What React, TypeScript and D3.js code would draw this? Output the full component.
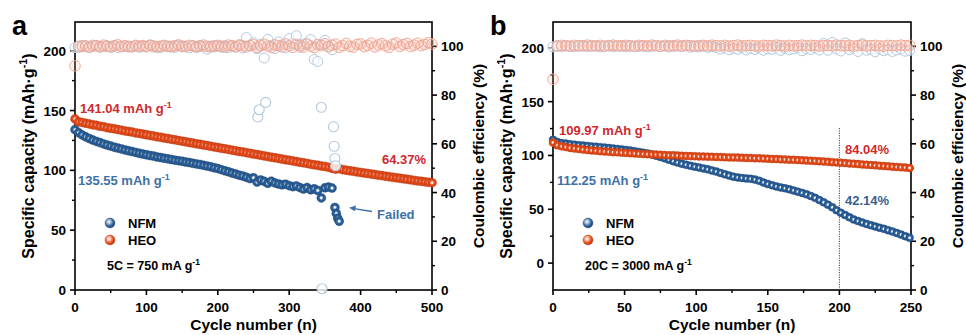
import React from 'react';
import * as d3 from 'd3';

const FONT = "'Liberation Sans', Arial, Helvetica, sans-serif";

// ---------- panel a (5C) ----------
const cyclesA = d3.range(0, 501, 5);
const heoCapA = [
  143, 140.6, 140.1, 139.3, 138.8, 138.1, 137.6, 136.8, 136.5, 135.7,
  135.2, 134.7, 134.1, 133.6, 133.0, 132.5, 132.0, 131.3, 130.9, 130.3,
  129.8, 129.2, 128.7, 128.1, 127.6, 127.0, 126.6, 126.0, 125.5, 124.9,
  124.4, 123.9, 123.3, 122.8, 122.2, 121.8, 121.2, 120.7, 120.1, 119.6,
  119.1, 118.5, 118.0, 117.5, 116.9, 116.4, 115.8, 115.4, 114.8, 114.2,
  113.7, 113.2, 112.6, 112.1, 111.6, 111.0, 110.5, 110.0, 109.4, 108.9,
  108.4, 107.9, 107.3, 106.8, 106.3, 105.8, 105.2, 104.7, 104.2, 103.6,
  103.2, 102.6, 101.8, 101.0, 101.4, 100.6, 100.1, 99.6, 99.2, 98.7,
  98.3, 97.8, 97.4, 96.9, 96.5, 96.0, 95.6, 95.1, 94.7, 94.2,
  93.8, 93.4, 92.9, 92.5, 92.1, 91.6, 91.2, 90.8, 90.4, 90.0,
  89.7,
];
const heoCeA = [
  92, 99.8, 100.3, 100.1, 99.6, 100.4, 100.2, 99.9, 100.5, 100.1,
  99.7, 100.3, 100.6, 99.9, 100.2, 100.0, 99.8, 100.4, 100.1, 100.3,
  99.9, 100.5, 100.2, 99.7, 100.1, 100.4, 100.0, 99.8, 100.3, 100.6,
  100.1, 99.9, 100.4, 100.2, 99.6, 100.3, 100.5, 100.0, 99.8, 100.2,
  100.4, 100.1, 99.7, 100.5, 100.3, 99.9, 100.6, 100.2, 99.8, 100.4,
  100.7, 99.6, 100.2, 100.9, 100.1, 99.5, 100.6, 100.3, 99.8, 101.0,
  100.2, 99.6, 100.8, 100.4, 99.7, 100.9, 100.1, 99.5, 100.7, 100.3,
  101.1, 99.8, 100.5, 100.9, 99.6, 100.3, 101.2, 100.0, 99.7, 100.8,
  101.0, 99.9, 100.4, 101.3, 99.8, 100.6, 101.1, 100.2, 99.6, 100.9,
  101.4, 100.0, 100.7, 101.2, 99.9, 100.5, 101.3, 100.3, 100.8, 101.5,
  100.9,
];
const nfmCyclesA = d3.range(0, 361, 5);
const nfmCapA = [
  134.0, 131.5, 129.6, 128.0, 126.6, 125.3, 124.2, 123.2, 122.1, 121.2,
  120.3, 119.4, 118.6, 117.9, 117.1, 116.4, 115.7, 115.0, 114.3, 113.6,
  113.0, 112.4, 111.9, 111.2, 110.7, 110.1, 109.6, 109.1, 108.5, 108.1,
  107.6, 107.0, 106.6, 105.9, 105.4, 104.9, 104.2, 103.6, 103.0, 102.2,
  101.5, 100.6, 99.6, 98.8, 97.8, 97.0, 96.0, 95.3, 94.2, 93.1,
  93.8, 90.2, 92.0, 90.8, 89.2, 90.9, 89.5, 88.6, 87.9, 88.4,
  87.2, 86.4, 87.0, 85.6, 84.4, 85.6, 83.8, 84.6, 83.2, 77.0,
  85.4, 86.0, 85.2,
];
const nfmFailCyclesA = [364, 366, 368, 370];
const nfmFailCapA = [69, 64, 60, 57.5];
const nfmCeA = [
  99.5, 100.1, 99.8, 100.2, 99.7, 100.0, 100.3, 99.6, 99.9, 100.2,
  99.8, 100.1, 99.5, 100.0, 100.3, 99.7, 99.9, 100.2, 99.6, 100.1,
  99.8, 100.4, 99.7, 100.0, 99.5, 100.2, 99.9, 100.1, 99.6, 100.3,
  99.8, 100.0, 99.4, 100.2, 99.9, 100.1, 99.7, 98.9, 100.2, 99.8,
  100.1, 99.6, 100.3, 99.5, 100.0, 99.7, 100.4, 99.3, 103.6, 100.2,
  101.5, 99.0, 100.8, 95.2, 102.9, 100.4, 99.1, 101.8, 100.6, 99.4,
  103.2, 101.2, 104.4, 99.6, 100.9, 101.4, 102.8, 94.6, 93.8, 100.8,
  102.5, 100.1, 98.6,
];
const nfmCeOutCyclesA = [256, 258, 267, 345, 346, 362, 363, 364, 365];
const nfmCeOutA = [71, 74, 77, 75, 0.5, 67, 59, 54, 51];

// ---------- panel b (20C) ----------
const cyclesB = d3.range(0, 250, 3);
const heoCapB = [
  112.0, 109.5, 108.5, 107.8, 107.0, 106.5, 106.0, 105.5, 105.1, 104.7,
  104.4, 104.0, 103.7, 103.4, 103.1, 102.9, 102.6, 102.4, 102.1, 101.9,
  101.6, 101.4, 101.2, 101.0, 100.8, 100.6, 100.4, 100.2, 100.1, 99.9,
  99.7, 99.6, 99.4, 99.3, 99.1, 99.0, 98.9, 98.7, 98.6, 98.5,
  98.3, 98.2, 98.1, 98.0, 97.8, 97.7, 97.6, 97.4, 97.3, 97.1,
  97.0, 96.8, 96.6, 96.4, 96.3, 96.1, 95.9, 95.7, 95.5, 95.3,
  95.1, 94.9, 94.6, 94.4, 94.1, 93.8, 93.5, 93.2, 92.9, 92.6,
  92.3, 92.0, 91.7, 91.4, 91.1, 90.8, 90.5, 90.2, 89.9, 89.6,
  89.3, 89.0, 88.7, 88.4,
];
const nfmCapB = [
  114.5, 112.5, 111.5, 111.0, 110.5, 110.0, 109.6, 109.2, 108.8, 108.4,
  108.1, 107.7, 107.3, 106.9, 106.5, 106.0, 105.6, 105.1, 104.5, 103.9,
  103.3, 102.6, 101.9, 101.0, 99.8, 98.6, 97.3, 96.0, 94.7, 93.4,
  92.3, 91.3, 90.4, 89.6, 88.8, 88.0, 87.1, 86.1, 85.0, 83.8,
  82.5, 81.3, 80.3, 79.6, 79.1, 78.7, 78.3, 77.6, 76.4, 74.9,
  73.5, 72.3, 71.2, 70.3, 69.5, 68.6, 67.5, 66.4, 65.2, 63.9,
  62.4, 60.6, 58.6, 56.5, 54.3, 51.8, 49.2, 46.8, 44.6, 42.5,
  40.6, 39.0, 37.6, 36.3, 35.1, 34.0, 32.9, 31.8, 30.6, 29.3,
  27.9, 26.5, 25.0, 23.5,
];
const heoCeB = [
  86.5, 100.2, 100.4, 100.3, 100.1, 100.4, 100.3, 100.2, 100.5, 100.3,
  100.2, 100.4, 100.1, 100.3, 100.5, 100.2, 100.3, 100.4, 100.2, 100.1,
  100.4, 100.3, 100.2, 100.5, 100.3, 100.1, 100.4, 100.2, 100.3, 100.5,
  100.2, 100.4, 100.3, 100.1, 100.3, 100.4, 100.2, 100.5, 100.3, 100.2,
  100.4, 100.1, 100.3, 100.5, 100.2, 100.3, 100.4, 100.2, 100.1, 100.4,
  100.3, 100.2, 100.5, 100.3, 100.1, 100.4, 100.2, 100.3, 100.5, 100.2,
  100.4, 100.3, 100.1, 100.3, 100.4, 100.2, 100.5, 100.3, 100.2, 100.4,
  100.1, 100.3, 100.5, 100.2, 100.3, 100.4, 100.2, 100.1, 100.4, 100.3,
  100.2, 100.5, 100.3, 100.4,
];
const nfmCeB = [
  99.8, 100.1, 99.9, 100.2, 100.0, 99.8, 100.1, 100.2, 99.9, 100.0,
  100.1, 99.8, 100.0, 100.2, 99.9, 100.1, 100.0, 99.8, 100.2, 99.9,
  100.0, 100.1, 99.8, 100.0, 100.2, 99.9, 100.1, 99.8, 100.0, 100.1,
  99.9, 100.2, 99.7, 100.0, 99.8, 100.1, 99.6, 99.9, 99.5,
  98.9, 99.4, 98.6, 99.2, 98.8, 99.5, 98.5, 99.1, 98.7, 99.3,
  98.4, 99.0, 98.8, 99.6, 98.3, 99.2, 98.6, 98.9, 99.4, 98.2,
  99.0, 98.7, 99.3, 98.5, 101.2, 98.4, 101.6, 98.9, 98.1, 101.4,
  98.6, 99.1, 97.9, 101.1, 98.4, 98.8, 97.8, 99.0, 98.2, 98.6,
  97.9, 98.5, 98.9, 98.0, 98.3,
];

// ticks
const xTicksA = [0, 100, 200, 300, 400, 500];
const xMinorA = [50, 150, 250, 350, 450];
const xTicksB = [0, 50, 100, 150, 200, 250];
const xMinorB = [25, 75, 125, 175, 225];
const capTicks = [0, 50, 100, 150, 200];
const capMinor = [25, 75, 125, 175];
const ceTicks = [0, 20, 40, 60, 80, 100];
const ceMinor = [10, 30, 50, 70, 90];

const BLUE = '#2d639c';
const ORANGE = '#e84c1c';
const CE_BLUE = '#b3c9de';
const CE_ORANGE = '#f0a18e';
const RED_TXT = '#d0282c';
const BLUE_TXT = '#3d71a6';

const T = 22, B = 290;

const Sup = ({ children }: { children: React.ReactNode }) => (
  <tspan dy={-5} fontSize="0.68em">{children}</tspan>
);

function Panel(props: any) {
  const { L, R, letter, xDomain, xTicks, xMinor, capDomain, heo, nfm, heoCe, nfmCe, nfmCeOut, extra, r } = props;
  const x = d3.scaleLinear().domain(xDomain).range([L, R]);
  const y = d3.scaleLinear().domain(capDomain).range([B, T]);
  const y2 = d3.scaleLinear().domain([0, 110]).range([B, T]);
  const midY = (T + B) / 2;
  const cap = (c: number[], v: number[], grad: string, stroke: string) =>
    c.map((cy, i) => (
      <circle key={i} cx={x(cy)} cy={y(v[i])} r={r} fill={`url(#${grad})`} stroke={stroke} strokeWidth={0.4} />
    ));
  return (
    <g fontFamily={FONT} fontWeight="bold">
      <text x={L - 63} y={35} fontSize={27}>{letter}</text>
      {/* frame */}
      <rect x={L} y={T} width={R - L} height={B - T} fill="none" stroke="#000" strokeWidth={1.6} />
      {xTicks.map((t: number) => (
        <g key={'x' + t}>
          <line x1={x(t)} x2={x(t)} y1={B} y2={B + 5} stroke="#000" strokeWidth={1.6} />
          <text x={x(t)} y={312} textAnchor="middle" fontSize={13.5}>{t}</text>
        </g>
      ))}
      {xMinor.map((t: number) => (
        <line key={'xm' + t} x1={x(t)} x2={x(t)} y1={B} y2={B + 3} stroke="#000" strokeWidth={1.4} />
      ))}
      {capTicks.map((t) => (
        <g key={'y' + t}>
          <line x1={L - 5} x2={L} y1={y(t)} y2={y(t)} stroke="#000" strokeWidth={1.6} />
          <text x={L - 9} y={y(t) + 5} textAnchor="end" fontSize={13.5}>{t}</text>
        </g>
      ))}
      {capMinor.map((t) => (
        <line key={'ym' + t} x1={L - 3} x2={L} y1={y(t)} y2={y(t)} stroke="#000" strokeWidth={1.4} />
      ))}
      {ceTicks.map((t) => (
        <g key={'r' + t}>
          <line x1={R} x2={R + 5} y1={y2(t)} y2={y2(t)} stroke="#000" strokeWidth={1.6} />
          <text x={R + 9} y={y2(t) + 5} fontSize={13.5}>{t}</text>
        </g>
      ))}
      {ceMinor.map((t) => (
        <line key={'rm' + t} x1={R} x2={R + 3} y1={y2(t)} y2={y2(t)} stroke="#000" strokeWidth={1.4} />
      ))}
      <text transform={`translate(${L - 47},${midY}) rotate(-90)`} textAnchor="middle" dominantBaseline="central" fontSize={16}>
        Specific capacity (mAh·g<Sup>-1</Sup><tspan dy={5}>)</tspan>
      </text>
      <text transform={`translate(${R + 46},${midY}) rotate(-90)`} textAnchor="middle" dominantBaseline="central" fontSize={15.5}>
        Coulombic efficiency (%)
      </text>
      <text x={(L + R) / 2} y={330} textAnchor="middle" fontSize={15.5}>Cycle number (n)</text>

      {extra && extra.line && (
        <line x1={x(extra.line)} x2={x(extra.line)} y1={128} y2={B} stroke="#444" strokeWidth={1} strokeDasharray="1.2,1.2" />
      )}

      {cap(nfm.c, nfm.v, 'gBlue', '#1f4a78')}
      {cap(heo.c, heo.v, 'gOrange', '#b83a12')}
      {nfmCe.c.map((c: number, i: number) => (
        <circle key={'nc' + i} cx={x(c)} cy={y2(nfmCe.v[i])} r={5} fill="#fff" fillOpacity={0.6} stroke={CE_BLUE} strokeWidth={1} />
      ))}
      {nfmCeOut && nfmCeOut.c.map((c: number, i: number) => (
        <circle key={'no' + i} cx={x(c)} cy={y2(nfmCeOut.v[i])} r={5} fill="#fff" fillOpacity={0.8} stroke={CE_BLUE} strokeWidth={1.1} />
      ))}
      {heoCe.c.map((c: number, i: number) => (
        <circle key={'hc' + i} cx={x(c)} cy={y2(heoCe.v[i])} r={5.3} fill="#f4b09f" fillOpacity={0.18} stroke={CE_ORANGE} strokeWidth={0.9} />
      ))}

      {/* legend */}
      <circle cx={L + 35} cy={223} r={5} fill="url(#gBlueL)" stroke="#1f4a78" strokeWidth={0.4} />
      <circle cx={L + 35} cy={240} r={5} fill="url(#gOrangeL)" stroke="#b83a12" strokeWidth={0.4} />
      <text x={L + 53} y={228} fontSize={13}>NFM</text>
      <text x={L + 53} y={245} fontSize={13}>HEO</text>
      <text x={L + 32} y={270} fontSize={12.5}>{props.rate}<Sup>-1</Sup></text>

      {props.children}
    </g>
  );
}

export default function App() {
  return (
    <svg width={966} height={335} style={{ position: 'absolute', left: 0, top: 0, background: '#fff' }}>
      <defs>
        <radialGradient id="gBlue" cx="50%" cy="50%" r="50%">
          <stop offset="0%" stopColor="#ffffff" />
          <stop offset="18%" stopColor="#f2f6fa" />
          <stop offset="48%" stopColor={BLUE} />
          <stop offset="100%" stopColor="#24538a" />
        </radialGradient>
        <radialGradient id="gOrange" cx="50%" cy="50%" r="50%">
          <stop offset="0%" stopColor="#ffffff" />
          <stop offset="18%" stopColor="#fdf0ea" />
          <stop offset="48%" stopColor={ORANGE} />
          <stop offset="100%" stopColor="#d44316" />
        </radialGradient>
        <radialGradient id="gBlueL" cx="40%" cy="38%" r="60%">
          <stop offset="0%" stopColor="#ffffff" />
          <stop offset="30%" stopColor="#a9c2dd" />
          <stop offset="70%" stopColor={BLUE} />
          <stop offset="100%" stopColor="#1f4a78" />
        </radialGradient>
        <radialGradient id="gOrangeL" cx="40%" cy="38%" r="60%">
          <stop offset="0%" stopColor="#ffffff" />
          <stop offset="30%" stopColor="#f7b9a2" />
          <stop offset="70%" stopColor={ORANGE} />
          <stop offset="100%" stopColor="#b83a12" />
        </radialGradient>
      </defs>
      <rect width={966} height={335} fill="#fff" />

      <Panel
        L={75} R={432} letter="a" r={4.5}
        xDomain={[0, 500]} xTicks={xTicksA} xMinor={xMinorA}
        capDomain={[0, 224]}
        heo={{ c: cyclesA, v: heoCapA }}
        nfm={{ c: nfmCyclesA.concat(nfmFailCyclesA), v: nfmCapA.concat(nfmFailCapA) }}
        heoCe={{ c: cyclesA, v: heoCeA }}
        nfmCe={{ c: nfmCyclesA, v: nfmCeA }}
        nfmCeOut={{ c: nfmCeOutCyclesA, v: nfmCeOutA }}
        rate="5C = 750 mA g"
      >
        <g fontFamily={FONT} fontWeight="bold" fontSize={13}>
          <text x={80} y={113} fill={RED_TXT}>141.04 mAh g<Sup>-1</Sup></text>
          <text x={78} y={185} fill={BLUE_TXT}>135.55 mAh g<Sup>-1</Sup></text>
          <text x={426} y={164} fill={RED_TXT} textAnchor="end">64.37%</text>
          <text x={377} y={219} fill={BLUE_TXT}>Failed</text>
          <line x1={372} y1={211.5} x2={354} y2={208.6} stroke={BLUE_TXT} strokeWidth={1.3} />
          <path d="M349,207.8 L356,205.6 L355,211.2 Z" fill={BLUE_TXT} />
        </g>
      </Panel>

      <Panel
        L={553} R={911} letter="b" r={4}
        xDomain={[0, 250]} xTicks={xTicksB} xMinor={xMinorB}
        capDomain={[-25, 224]}
        heo={{ c: cyclesB, v: heoCapB }}
        nfm={{ c: cyclesB, v: nfmCapB }}
        heoCe={{ c: cyclesB, v: heoCeB }}
        nfmCe={{ c: cyclesB, v: nfmCeB }}
        extra={{ line: 200 }}
        rate="20C = 3000 mA g"
      >
        <g fontFamily={FONT} fontWeight="bold" fontSize={13}>
          <text x={559} y={135} fill={RED_TXT}>109.97 mAh g<Sup>-1</Sup></text>
          <text x={557} y={185} fill={BLUE_TXT}>112.25 mAh g<Sup>-1</Sup></text>
          <text x={845} y={154} fill={RED_TXT}>84.04%</text>
          <text x={845} y={205} fill="#3b5f8c">42.14%</text>
        </g>
      </Panel>
    </svg>
  );
}
